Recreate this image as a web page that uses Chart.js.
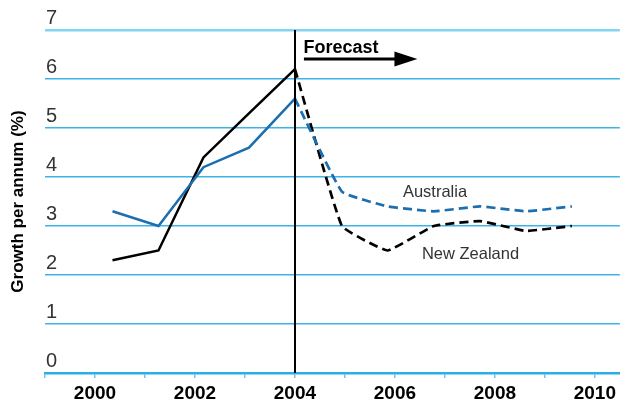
<!DOCTYPE html>
<html>
<head>
<meta charset="utf-8">
<script src="https://cdn.jsdelivr.net/npm/chart.js@4/dist/chart.umd.min.js"></script>
<style>
  html, body { margin: 0; padding: 0; background: #fff; }
  #wrap { width: 620px; height: 403px; position: relative; }
</style>
</head>
<body>
<div id="wrap"><canvas id="chart"></canvas></div>
<script>
// Datos
const years = [2000.35, 2001.27, 2002.17, 2003.08, 2004.0, 2004.94, 2005.85, 2006.78, 2007.7, 2008.62, 2009.54];
const australia = [3.3, 3.0, 4.2, 4.6, 5.6, 3.7, 3.4, 3.3, 3.4, 3.3, 3.4];
const newZealand = [2.3, 2.5, 4.4, 5.3, 6.2, 3.0, 2.5, 3.0, 3.1, 2.9, 3.0];
const xTickYears = [1999, 2000, 2001, 2002, 2003, 2004, 2005, 2006, 2007, 2008, 2009, 2010];
const xTickLabels = ['2000', '2002', '2004', '2006', '2008', '2010'];
const forecastStart = 2004;
const lastActual = 4; // índice del último dato real

const FONT = "'Liberation Sans', Arial, sans-serif";
const BLUE = '#1b6fb0';
const GRID = '#3db3e6';

function toPoints(values, from, to) {
    const pts = [];
    for (let i = from; i <= to; i++) pts.push({ x: years[i], y: values[i] });
    return pts;
}

// Anotaciones: línea de pronóstico, flecha y nombres de series
const annotations = {
    id: 'annotations',
    afterDatasetsDraw(chart) {
        const { ctx, chartArea, scales: { x, y } } = chart;
        ctx.save();
        // línea vertical
        const vx = Math.round(x.getPixelForValue(forecastStart));
        ctx.strokeStyle = '#000';
        ctx.lineWidth = 2;
        ctx.beginPath();
        ctx.moveTo(vx, chartArea.top);
        ctx.lineTo(vx, chartArea.bottom);
        ctx.stroke();

        // Forecast + flecha
        ctx.fillStyle = '#000';
        ctx.font = 'bold 18px ' + FONT;
        ctx.textBaseline = 'alphabetic';
        ctx.fillText('Forecast', x.getPixelForValue(2004.17), y.getPixelForValue(6.53));
        const ay = y.getPixelForValue(6.41);
        const ax0 = x.getPixelForValue(2004.18);
        const ax1 = x.getPixelForValue(2006.45);
        ctx.lineWidth = 3;
        ctx.beginPath();
        ctx.moveTo(ax0, ay);
        ctx.lineTo(ax1 - 20, ay);
        ctx.stroke();
        ctx.beginPath();
        ctx.moveTo(ax1, ay);
        ctx.lineTo(ax1 - 23, ay - 7.5);
        ctx.lineTo(ax1 - 23, ay + 7.5);
        ctx.closePath();
        ctx.fill();

        // nombres de series
        ctx.fillStyle = '#333';
        ctx.font = '16.5px ' + FONT;
        ctx.fillText('Australia', x.getPixelForValue(2006.16), y.getPixelForValue(3.6));
        ctx.fillText('New Zealand', x.getPixelForValue(2006.54), y.getPixelForValue(2.32));
        ctx.restore();
    }
};

const lineBase = { pointRadius: 0, fill: false, borderCapStyle: 'butt', borderJoinStyle: 'miter' };

new Chart(document.getElementById('chart'), {
    type: 'line',
    data: {
        datasets: [
            { ...lineBase, label: 'Australia', data: toPoints(australia, 0, lastActual), borderColor: BLUE, borderWidth: 2.5, tension: 0 },
            { ...lineBase, label: 'New Zealand', data: toPoints(newZealand, 0, lastActual), borderColor: '#000', borderWidth: 2.5, tension: 0 },
            { ...lineBase, label: 'Australia (forecast)', data: toPoints(australia, lastActual, years.length - 1), borderColor: BLUE, borderWidth: 2.7, borderDash: [9, 5], tension: 0.1 },
            { ...lineBase, label: 'New Zealand (forecast)', data: toPoints(newZealand, lastActual, years.length - 1), borderColor: '#000', borderWidth: 2.7, borderDash: [9, 5], tension: 0.1 }
        ]
    },
    options: {
        responsive: true,
        maintainAspectRatio: false,
        animation: false,
        layout: { padding: { top: 30, left: 0, right: 0, bottom: 0 } },
        plugins: { legend: { display: false }, tooltip: { enabled: false } },
        scales: {
            x: {
                type: 'linear',
                min: 1999,
                max: 2010.5,
                afterBuildTicks: s => { s.ticks = xTickYears.map(v => ({ value: v })); },
                afterFit: s => { s.height = 30; },
                ticks: {
                    autoSkip: false,
                    maxRotation: 0,
                    padding: 4,
                    color: '#000',
                    font: { family: FONT, size: 19, weight: 'bold' },
                    callback: v => xTickLabels.includes(String(v)) ? String(v) : ''
                },
                grid: { drawOnChartArea: false, tickLength: 5, color: '#6cc6ee', lineWidth: 1.5 },
                border: { display: true, color: '#2aaee6', width: 2.5 }
            },
            y: {
                min: 0,
                max: 7,
                afterFit: s => { s.width = 45; },
                ticks: {
                    stepSize: 1,
                    mirror: true,
                    padding: 1,
                    labelOffset: -12,
                    color: '#333',
                    font: { family: FONT, size: 20 }
                },
                title: {
                    display: true,
                    text: 'Growth per annum (%)',
                    color: '#000',
                    padding: { top: 8, bottom: 0 },
                    font: { family: FONT, size: 17, weight: 'bold' }
                },
                grid: {
                    drawTicks: false,
                    color: c => c.tick && c.tick.value === 7 ? '#84d3f3' : GRID,
                    lineWidth: c => c.tick && c.tick.value === 7 ? 2.5 : 1.5
                },
                border: { display: false }
            }
        }
    },
    plugins: [annotations]
});
</script>
</body>
</html>
